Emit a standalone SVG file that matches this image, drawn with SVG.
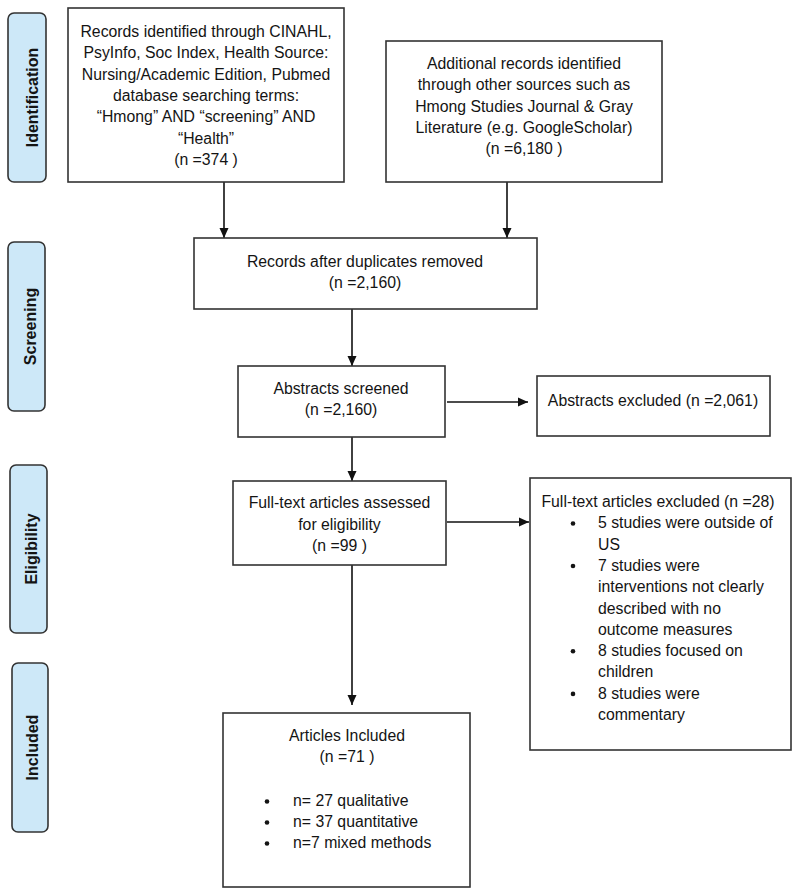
<svg xmlns="http://www.w3.org/2000/svg" width="800" height="896" viewBox="0 0 800 896">
<defs>
<style>
.box{fill:#ffffff;stroke:#333333;stroke-width:1.6}
.phase{fill:#cde8f8;stroke:#333333;stroke-width:1.6}
.t{font-family:"Liberation Sans",Arial,sans-serif;font-size:15.8px;fill:#141414}
.c{text-anchor:middle}
.ph{font-family:"Liberation Sans",Arial,sans-serif;font-size:16px;font-weight:bold;fill:#141414;text-anchor:middle}
.con{stroke:#111111;stroke-width:1.6;fill:none;marker-end:url(#arr)}
</style>
<marker id="arr" markerUnits="userSpaceOnUse" markerWidth="10" markerHeight="10" refX="10" refY="5" orient="auto">
<path d="M0,0.5 L10,5 L0,9.5 z" fill="#111111"/>
</marker>
</defs>
<rect width="800" height="896" fill="#ffffff"/>

<g id="phase-identification">
<rect class="phase" x="8" y="13" width="38" height="169" rx="6"/>
<text class="ph" transform="translate(38,97.5) rotate(-90)">Identification</text>
</g>
<g id="phase-screening">
<rect class="phase" x="8" y="242" width="37" height="169" rx="6"/>
<text class="ph" transform="translate(36,326.5) rotate(-90)">Screening</text>
</g>
<g id="phase-eligibility">
<rect class="phase" x="10" y="465" width="37" height="168" rx="6"/>
<text class="ph" transform="translate(37,549) rotate(-90)">Eligibility</text>
</g>
<g id="phase-included">
<rect class="phase" x="12" y="663" width="36" height="169" rx="6"/>
<text class="ph" transform="translate(38,747.5) rotate(-90)">Included</text>
</g>

<g id="connectors">
<line class="con" x1="224" y1="182" x2="224" y2="238"/>
<line class="con" x1="507" y1="182" x2="507" y2="238"/>
<line class="con" x1="352" y1="309" x2="352" y2="366"/>
<line class="con" x1="447" y1="402" x2="528" y2="402"/>
<line class="con" x1="352" y1="437" x2="352" y2="481"/>
<line class="con" x1="447" y1="522" x2="529" y2="522"/>
<line class="con" x1="352" y1="565" x2="352" y2="705"/>
</g>

<g id="records-databases">
<rect class="box" x="68" y="8" width="276" height="174"/>
<text class="t c" x="206" y="37">Records identified through CINAHL,</text>
<text class="t c" x="206" y="58.3">PsyInfo, Soc Index, Health Source:</text>
<text class="t c" x="206" y="79.6">Nursing/Academic Edition, Pubmed</text>
<text class="t c" x="206" y="100.9">database searching terms:</text>
<text class="t c" x="206" y="122.2">“Hmong” AND “screening” AND</text>
<text class="t c" x="206" y="143.5">“Health”</text>
<text class="t c" x="206" y="164.8">(n =374 )</text>
</g>

<g id="records-other">
<rect class="box" x="386" y="41" width="276" height="141"/>
<text class="t c" x="524" y="69">Additional records identified</text>
<text class="t c" x="524" y="90.3">through other sources such as</text>
<text class="t c" x="524" y="111.6">Hmong Studies Journal &amp; Gray</text>
<text class="t c" x="524" y="132.9">Literature (e.g. GoogleScholar)</text>
<text class="t c" x="524" y="154.2">(n =6,180  )</text>
</g>

<g id="records-deduplicated">
<rect class="box" x="194" y="238" width="343" height="71"/>
<text class="t c" x="365" y="267">Records after duplicates removed</text>
<text class="t c" x="365" y="288">(n =2,160)</text>
</g>

<g id="abstracts-screened">
<rect class="box" x="238" y="366" width="207" height="71"/>
<text class="t c" x="341" y="394">Abstracts screened</text>
<text class="t c" x="341" y="415">(n =2,160)</text>
</g>

<g id="abstracts-excluded">
<rect class="box" x="537" y="376" width="233" height="60"/>
<text class="t c" x="653" y="406">Abstracts excluded (n =2,061)</text>
</g>

<g id="fulltext-assessed">
<rect class="box" x="233" y="481" width="213" height="84"/>
<text class="t c" x="339.5" y="508">Full-text articles assessed</text>
<text class="t c" x="339.5" y="529.5">for eligibility</text>
<text class="t c" x="339.5" y="551">(n =99 )</text>
</g>

<g id="fulltext-excluded">
<rect class="box" x="530" y="478" width="261" height="272"/>
<text class="t c" x="658" y="507">Full-text articles excluded (n =28)</text>
<circle cx="573" cy="523.5" r="2.3" fill="#141414"/>
<text class="t" x="598" y="528.3">5 studies were outside of</text>
<text class="t" x="598" y="549.6">US</text>
<circle cx="573" cy="566" r="2.3" fill="#141414"/>
<text class="t" x="598" y="570.9">7 studies were</text>
<text class="t" x="598" y="592.2">interventions not clearly</text>
<text class="t" x="598" y="613.5">described with no</text>
<text class="t" x="598" y="634.8">outcome measures</text>
<circle cx="573" cy="651.3" r="2.3" fill="#141414"/>
<text class="t" x="598" y="656.1">8 studies focused on</text>
<text class="t" x="598" y="677.4">children</text>
<circle cx="573" cy="693.9" r="2.3" fill="#141414"/>
<text class="t" x="598" y="698.7">8 studies were</text>
<text class="t" x="598" y="720">commentary</text>
</g>

<g id="articles-included">
<rect class="box" x="223" y="713" width="247" height="174"/>
<text class="t c" x="347" y="741">Articles Included</text>
<text class="t c" x="347" y="762">(n =71 )</text>
<circle cx="267" cy="801.5" r="2.3" fill="#141414"/>
<text class="t" x="293" y="806">n= 27 qualitative</text>
<circle cx="267" cy="822.5" r="2.3" fill="#141414"/>
<text class="t" x="293" y="827">n= 37 quantitative</text>
<circle cx="267" cy="843.5" r="2.3" fill="#141414"/>
<text class="t" x="293" y="848">n=7 mixed methods</text>
</g>
</svg>
